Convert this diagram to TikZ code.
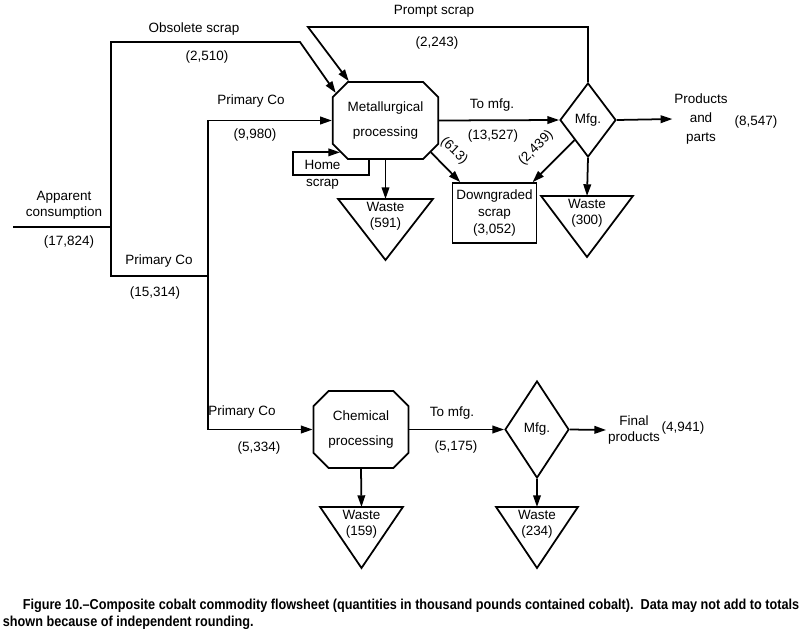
\documentclass[tikz,border=0pt]{standalone}
\usepackage{fontspec}
\setmainfont{Liberation Sans}
\newfontfamily\capfont[FakeStretch=0.88]{Liberation Sans}
\usetikzlibrary{arrows.meta,shapes.misc,shapes.geometric}

\tikzset{
  flow/.style={-{Triangle[length=10pt,width=6.5pt]}},
  proc/.style={chamfered rectangle, chamfered rectangle xsep=0.33cm, draw, align=center, minimum height=2.31cm},
  mfg/.style={diamond, draw, inner sep=0pt},
  waste/.style={anchor=north, minimum width=#1, inner xsep=0pt, inner ysep=2pt, align=center},
  lbl/.style={align=center, inner sep=1pt}
}

\begin{document}
\begin{tikzpicture}[
		x=0.03cm, y=-0.03cm,
		line width=1.5pt,
		every node/.style={font=\fontsize{11.5}{13.5}\selectfont}
	]
  \useasboundingbox (0,0) rectangle (800,638);

  \node (met) [proc, minimum width=2.79cm] at (385.5,120.5) {Metallurgical\\[8pt]processing};
  \node (chem) [proc, minimum width=2.46cm] at (361,429.5) {Chemical\\[8pt]processing};
  \node (mfg1) [mfg, minimum width=1.68cm, minimum height=2.22cm] at (588,120) {Mfg.};
  \node (mfg2) [mfg, minimum width=1.92cm, minimum height=2.91cm] at (537,429.5) {Mfg.};
  \node (dg) [draw, align=center, minimum width=2.43cm, minimum height=1.8cm] at (494.5,213) {Downgraded\\[1pt]scrap\\[1pt](3,052)};

  \node (w1) [waste=2.79cm] at (385.5,199) {Waste\\(591)};
  \node (w2) [waste=2.7cm] at (587,196) {Waste\\(300)};
  \node (w3) [waste=2.43cm] at (361.5,507) {Waste\\(159)};
  \node (w4) [waste=2.4cm] at (537,507) {Waste\\(234)};
  \foreach \w in {w1,w2,w3,w4}
    \draw (\w.north west) -- (\w.north east) -- ([yshift=-1.83cm]\w.north) -- cycle;

  \node (app) [lbl] at (64,205) {Apparent\\consumption};
  \node (appq) at (69,242) {(17,824)};
  \node (obs) at (194,29) {Obsolete scrap};
  \node (obsq) at (207,57) {(2,510)};
  \node (pco1) at (251,101) {Primary Co};
  \node (pco1q) at (255,135) {(9,980)};
  \node (pco) at (159,261) {Primary Co};
  \node (pcoq) at (155,293) {(15,314)};
  \node (pcs) at (434,11) {Prompt scrap};
  \node (pcsq) at (437,43) {(2,243)};
  \node (tm1) at (492,105) {To mfg.};
  \node (tm1q) at (493,136) {(13,527)};
  \node (prod) [lbl] at (701,119) {Products\\[3pt]and\\[3pt]parts};
  \node (prodq) at (756,122) {(8,547)};
  \node (home) [lbl] at (322.5,175) {Home\\[1pt]scrap};
  \node (q613) [rotate=-43, inner sep=0pt] at (454,151) {(613)};
  \node (q2439) [rotate=45, inner sep=0pt] at (536,148) {(2,439)};
  \node (pco2) at (242,412) {Primary Co};
  \node (pco2q) at (259,448) {(5,334)};
  \node (tm2) at (452,413) {To mfg.};
  \node (tm2q) at (456,447) {(5,175)};
  \node (fin) [lbl] at (634,430) {Final\\products};
  \node (finq) at (683,428) {(4,941)};

  \coordinate (src) at (13,227);
  \coordinate (j1) at (111,227);
  \coordinate (j2) at (208,276);
  \coordinate (ob) at (300,42);
  \coordinate (pr) at (308,27);
  \coordinate (hsa) at (369,175);
  \coordinate (hsb) at (293,151);

  \draw (src) -- (j1);
  \draw [flow] (j1) |- (ob) -- (met.151);
  \draw (j1) |- (j2);
  \draw [flow] (j2) |- (met.west);
  \draw [flow] (j2) |- (chem.west);
  \draw [flow] (met.east) -- (mfg1.west);
  \draw [flow] (mfg1.north) |- (pr) -- (met.133);
  \draw [flow] (mfg1.east) -- (prod.west);
  \draw [flow] (met.south) -- (w1.north);
  \draw [flow] (met.south -| hsa) -- (hsa) -| (hsb |- met.215) -- (met.215);
  \draw [flow] (met.-35) -- (dg.138);
  \draw [flow] (mfg1.236) -- (dg.39);
  \draw [flow] (mfg1.south) -- (w2.north);
  \draw [flow] (chem.east) -- (mfg2.west);
  \draw [flow] (mfg2.east) -- (fin.west);
  \draw [flow] (chem.south) -- (w3.north);
  \draw [flow] (mfg2.south) -- (w4.north);

  \node (cap) [anchor=north west, align=left, inner sep=0pt, font=\capfont\bfseries\fontsize{12.3}{14.5}\selectfont] at (2,598)
    {\hspace*{17pt}Figure 10.–Composite cobalt commodity flowsheet (quantities in thousand pounds contained cobalt).\ \ Data may not add to totals\\shown because of independent rounding.};
\end{tikzpicture}
\end{document}
